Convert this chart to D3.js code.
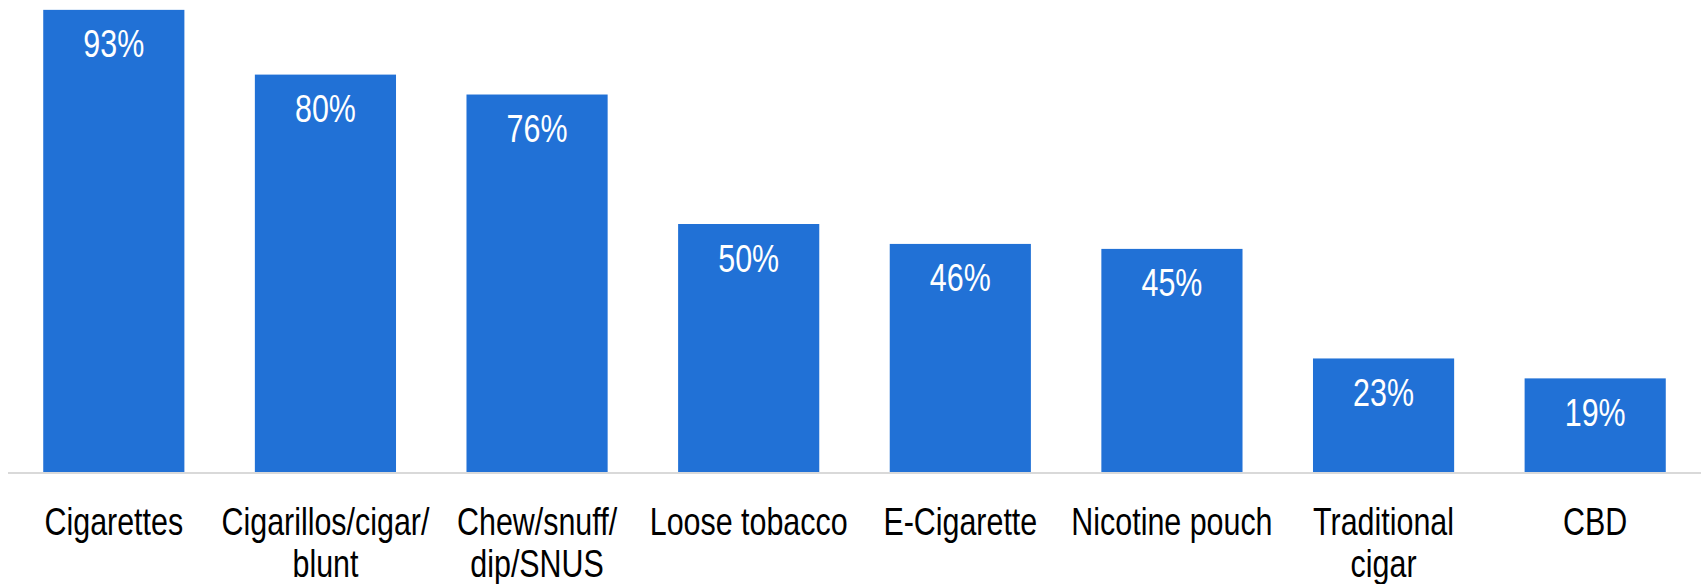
<!DOCTYPE html>
<html>
<head>
<meta charset="utf-8">
<script src="https://cdn.jsdelivr.net/npm/d3@7"></script>
<style>
  html, body { margin: 0; padding: 0; background: #ffffff; }
  svg { display: block; }
  text { font-family: "Liberation Sans", Arial, sans-serif; }
</style>
</head>
<body>
<svg id="chart" width="1702" height="584"></svg>
<script>
// Share of respondents by product type
const categories = [
  ["Cigarettes"],
  ["Cigarillos/cigar/", "blunt"],
  ["Chew/snuff/", "dip/SNUS"],
  ["Loose tobacco"],
  ["E-Cigarette"],
  ["Nicotine pouch"],
  ["Traditional", "cigar"],
  ["CBD"]
];
const values = [93, 80, 76, 50, 46, 45, 23, 19];
const valueLabels = ["93%", "80%", "76%", "50%", "46%", "45%", "23%", "19%"];

const width = 1702, height = 584;
const baseline = 473;
const barColor = "#2171d6";
const fontSize = 39.5;
const squeeze = 0.77;   // condensed lettering

const svg = d3.select("#chart");

const x = d3.scaleBand()
  .domain(d3.range(values.length))
  .range([8, 1701])
  .paddingInner(0.333)
  .paddingOuter(0.1665);

const y = d3.scaleLinear()
  .domain([0, 100])
  .range([baseline, baseline - 498]);

// bars
svg.append("g")
  .selectAll("rect")
  .data(values)
  .join("rect")
  .attr("x", (d, i) => x(i))
  .attr("y", d => y(d))
  .attr("width", x.bandwidth())
  .attr("height", d => y(0) - y(d))
  .attr("fill", barColor);

// baseline axis
const axis = svg.append("g")
  .attr("transform", `translate(0,${baseline})`)
  .call(d3.axisBottom(x).tickSize(0).tickFormat(""));
axis.select(".domain")
  .attr("stroke", "#d9d9d9")
  .attr("stroke-width", 2)
  .attr("d", `M${x.range()[0]},0H${x.range()[1]}`);

// value labels inside bars
svg.append("g")
  .selectAll("g")
  .data(values)
  .join("g")
  .attr("transform", (d, i) => `translate(${x(i) + x.bandwidth() / 2},${y(d) + 47.5}) scale(${squeeze},1)`)
  .append("text")
  .attr("text-anchor", "middle")
  .attr("font-size", fontSize)
  .attr("fill", "#ffffff")
  .text((d, i) => valueLabels[i]);

// category labels
const cat = svg.append("g")
  .selectAll("g")
  .data(categories)
  .join("g")
  .attr("transform", (d, i) => `translate(${x(i) + x.bandwidth() / 2},534.5) scale(${squeeze},1)`);

cat.selectAll("text")
  .data(d => d)
  .join("text")
  .attr("text-anchor", "middle")
  .attr("font-size", fontSize)
  .attr("fill", "#000000")
  .attr("y", (d, j) => j * 42.4)
  .text(d => d);
</script>
</body>
</html>
